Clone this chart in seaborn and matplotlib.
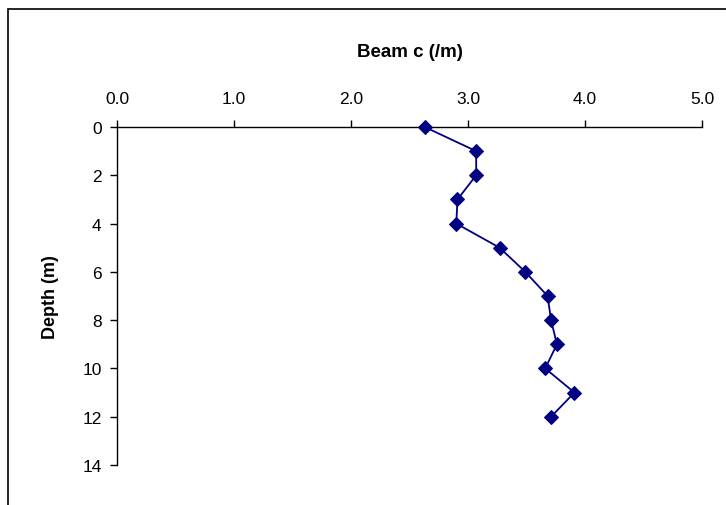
import matplotlib
matplotlib.use("Agg")
import matplotlib.pyplot as plt
import seaborn as sns
import pandas as pd
from matplotlib.patches import Rectangle

depth = [0, 1, 2, 3, 4, 5, 6, 7, 8, 9, 10, 11, 12]
beam_c = [2.63, 3.07, 3.07, 2.91, 2.90, 3.27, 3.49, 3.68, 3.71, 3.76, 3.66, 3.91, 3.71]
x_ticks = [0.0, 1.0, 2.0, 3.0, 4.0, 5.0]
x_tick_labels = ["0.0", "1.0", "2.0", "3.0", "4.0", "5.0"]
y_ticks = [0, 2, 4, 6, 8, 10, 12, 14]

sns.set_theme(style="white")
plt.rcParams["font.family"] = ["Liberation Sans", "DejaVu Sans"]

df = pd.DataFrame({"Beam c (/m)": beam_c, "Depth (m)": depth})

fig = plt.figure(figsize=(7.26, 5.06), dpi=100)
ax = fig.add_axes([117 / 726, 1 - 466 / 506, (702 - 117) / 726, (466 - 128) / 506])

sns.lineplot(data=df, x="Beam c (/m)", y="Depth (m)", sort=False, estimator=None,
             color="#000080", marker="D", markersize=7, markeredgecolor="#000080",
             linewidth=1.3, ax=ax, zorder=5)
for line in ax.lines:
    line.set_clip_on(False)

ax.set_xlim(0, 5)
ax.set_ylim(14, 0)
ax.set_xticks(x_ticks)
ax.set_xticklabels(x_tick_labels)
ax.set_yticks(y_ticks)
ax.xaxis.tick_top()
ax.xaxis.set_label_position("top")
for s in ["right", "bottom"]:
    ax.spines[s].set_visible(False)
for s in ["top", "left"]:
    ax.spines[s].set_color("black")
    ax.spines[s].set_linewidth(1.0)
    ax.spines[s].set_zorder(1)
ax.tick_params(axis="x", which="both", top=True, bottom=False, direction="out",
               length=5, width=1, color="black", labelsize=12.5, pad=10, labelcolor="black")
ax.tick_params(axis="y", which="both", left=True, direction="out",
               length=5, width=1, color="black", labelsize=12.5, pad=6, labelcolor="black")
ax.set_xlabel("Beam c (/m)", fontsize=13.5, fontweight="bold", labelpad=25, color="black")
ax.set_ylabel("Depth (m)", fontsize=13, fontweight="bold", labelpad=17, color="black")
ax.grid(False)

fig.patches.append(Rectangle((8 / 726, -0.1), 1.2, 1 - 10 / 506 + 0.1, transform=fig.transFigure,
                             fill=False, edgecolor="black", linewidth=1.2))

fig.savefig("out.png", dpi=100)
